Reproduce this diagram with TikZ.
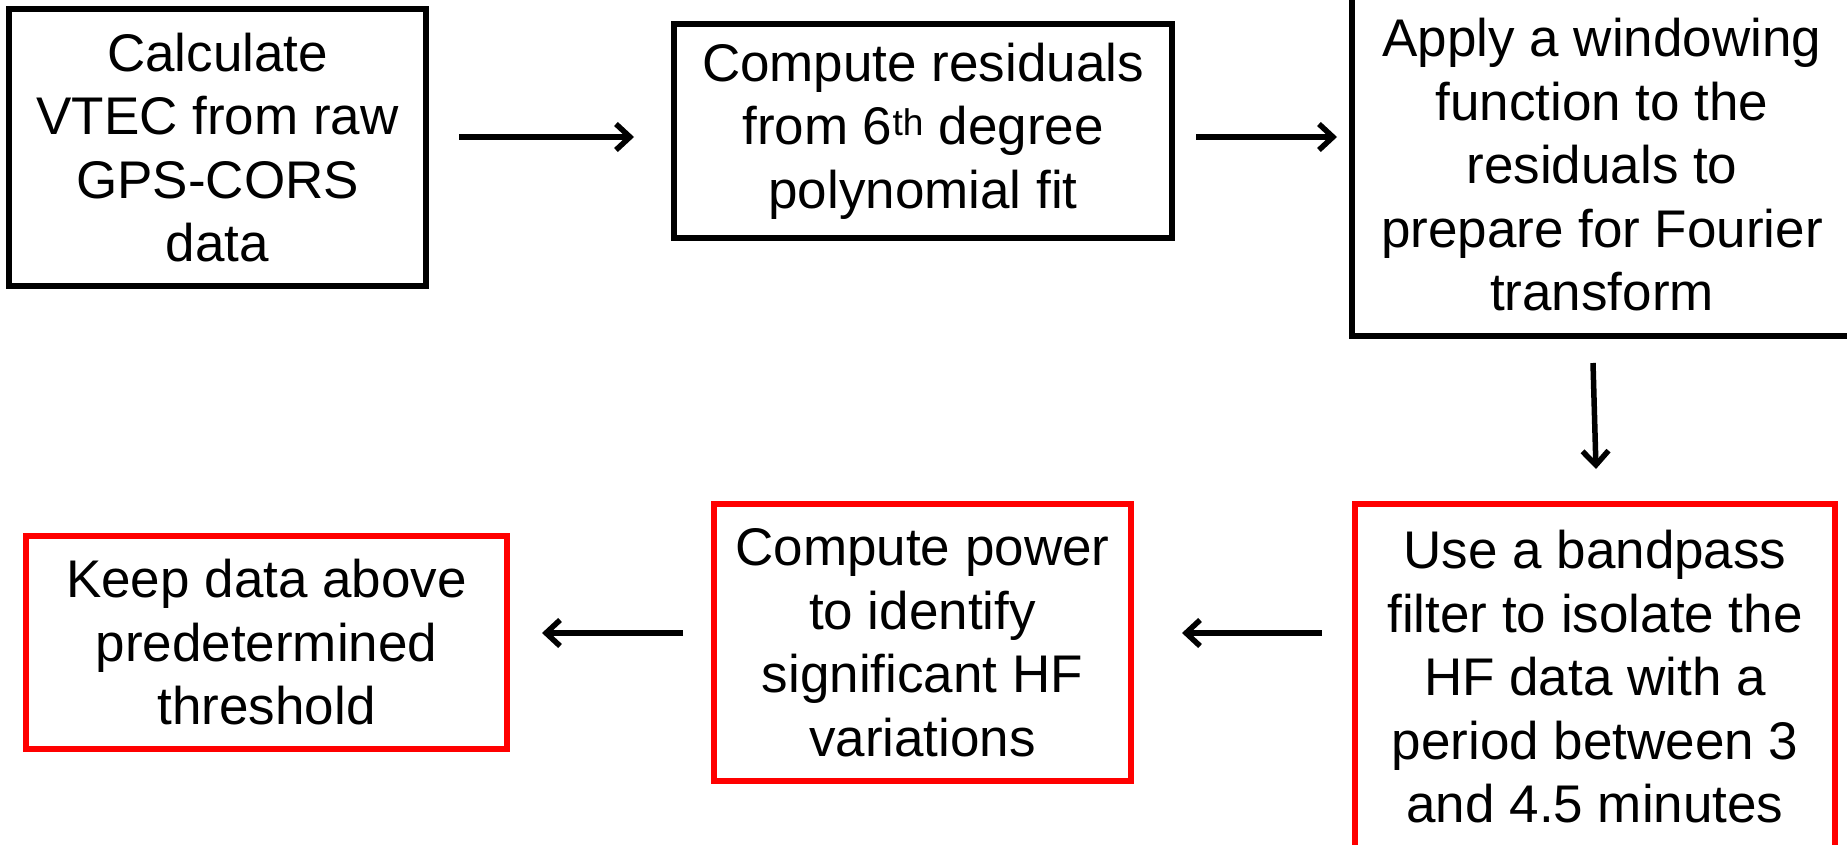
\documentclass[tikz,border=0pt]{standalone}
\usepackage{fontspec}
\setmainfont{Liberation Sans}
\usetikzlibrary{arrows.meta}
\tikzset{
  box/.style={draw=black, line width=5.5pt, rectangle, inner sep=0pt, align=center,
    font=\fontsize{53}{63.5}\selectfont},
  redbox/.style={box, draw=red},
  arr/.style={line width=5.5pt, line cap=butt, -{Straight Barb[length=14pt,width=26pt,line width=5.5pt]}}
}
\begin{document}
\begin{tikzpicture}[x=1pt,y=-1pt]
\useasboundingbox (0,0) rectangle (1847,845);
\node[box, minimum width=417pt, minimum height=277pt] (b1) at (217.5,147.5)
  {Calculate\\VTEC from raw\\GPS-CORS\\data};
\node[box, minimum width=498pt, minimum height=214pt] (b2) at (923,131)
  {Compute residuals\\from 6\textsuperscript{th} degree\\polynomial fit};
\node[box, minimum width=500pt, minimum height=342pt] (b3) at (1602,165)
  {Apply a windowing\\function to the\\residuals to\\prepare for Fourier\\transform};
\node[redbox, minimum width=480pt, minimum height=346pt] (b4) at (1595,677)
  {Use a bandpass\\filter to isolate the\\HF data with a\\period between 3\\and 4.5 minutes};
\node[redbox, minimum width=417pt, minimum height=277pt] (b5) at (922.5,642.5)
  {Compute power\\to identify\\significant HF\\variations};
\node[redbox, minimum width=481pt, minimum height=213pt] (b6) at (266.5,642.5)
  {Keep data above\\predetermined\\threshold};
\coordinate (a1s) at (459,137);  \coordinate (a1e) at (634,137);
\coordinate (a2s) at (1196,137); \coordinate (a2e) at (1337,137);
\coordinate (a3s) at (1593,363); \coordinate (a3e) at (1596,469);
\coordinate (a4s) at (1322,633); \coordinate (a4e) at (1182,633);
\coordinate (a5s) at (683,633);  \coordinate (a5e) at (542,633);
\draw[arr] (a1s) -- (a1e);
\draw[arr] (a2s) -- (a2e);
\draw[arr] (a3s) -- (a3e);
\draw[arr] (a4s) -- (a4e);
\draw[arr] (a5s) -- (a5e);
\end{tikzpicture}
\end{document}
